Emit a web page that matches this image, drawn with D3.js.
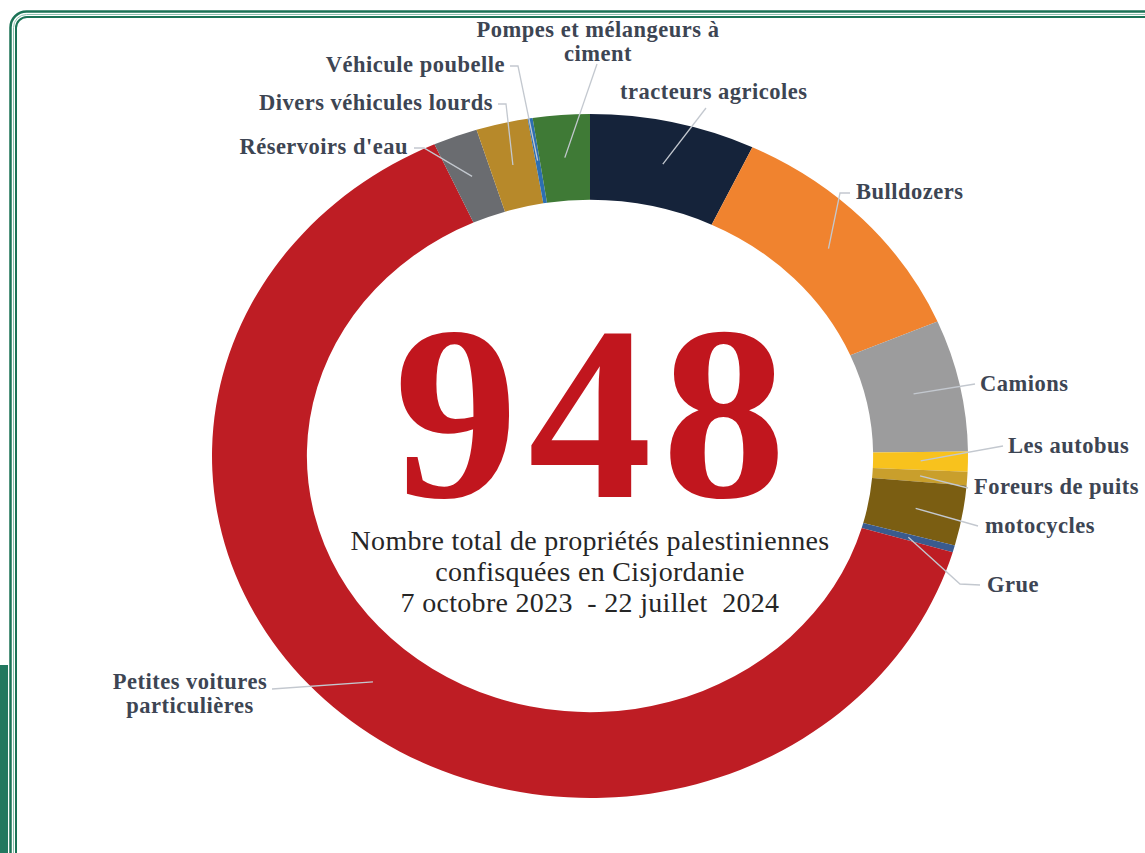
<!DOCTYPE html>
<html>
<head>
<meta charset="utf-8">
<script src="https://cdn.jsdelivr.net/npm/d3@7"></script>
<style>
  html, body { margin: 0; padding: 0; background: #ffffff; }
  svg { display: block; }
</style>
</head>
<body>
<svg id="chart" width="1145" height="853"></svg>
<script>
// ---- data ----
const categories = [
  "tracteurs agricoles",
  "Bulldozers",
  "Camions",
  "Les autobus",
  "Foreurs de puits",
  "motocycles",
  "Grue",
  "Petites voitures particulières",
  "Réservoirs d'eau",
  "Divers véhicules lourds",
  "Véhicule poubelle",
  "Pompes et mélangeurs à ciment"
];
const values = [67, 109, 59, 9, 6, 27, 3, 604, 18, 21, 2, 23];
const totalLabel = "948";
const subtitleLines = [
  "Nombre total de propriétés palestiniennes",
  "confisquées en Cisjordanie",
  "7 octobre 2023  - 22 juillet  2024"
];

// ---- styles ----
const palette = [
  "#15233a", "#f0832f", "#9c9c9d", "#f8c21d", "#c99f2c", "#7b5e12",
  "#3a5b8e", "#be1d24", "#6a6c70", "#b7892a", "#2d6fb2", "#3f7a36"
];

// ---- layout ----
const W = 1145, H = 853;
const cx = 590, cy = 456;
const R = 342;            // vertical outer radius
const sx = 378 / 342;     // horizontal stretch of the picture
const innerRatio = 0.749;

// label layout: anchor x, baseline y, text-anchor, leader points after the slice start
const labelLayout = {
  "tracteurs agricoles": { lines: ["tracteurs agricoles"], x: 620, y: 99, anchor: "start", path: [[706, 108]] },
  "Bulldozers": { lines: ["Bulldozers"], x: 856, y: 199, anchor: "start", path: [[840, 193], [850, 193]] },
  "Camions": { lines: ["Camions"], x: 980, y: 391, anchor: "start", path: [[975, 384]] },
  "Les autobus": { lines: ["Les autobus"], x: 1008, y: 453, anchor: "start", path: [[1003, 446]] },
  "Foreurs de puits": { lines: ["Foreurs de puits"], x: 974, y: 494, anchor: "start", path: [[968, 488]] },
  "motocycles": { lines: ["motocycles"], x: 985, y: 533, anchor: "start", path: [[978, 526]] },
  "Grue": { lines: ["Grue"], x: 987, y: 592, anchor: "start", path: [[960, 584], [980, 585]] },
  "Petites voitures particulières": { lines: ["Petites voitures", "particulières"], x: 190, y: 689, anchor: "middle", path: [[272, 689]] },
  "Réservoirs d'eau": { lines: ["Réservoirs d'eau"], x: 408, y: 154, anchor: "end", path: [[424, 148], [414, 148]] },
  "Divers véhicules lourds": { lines: ["Divers véhicules lourds"], x: 493, y: 110, anchor: "end", path: [[506, 104], [498, 104]] },
  "Véhicule poubelle": { lines: ["Véhicule poubelle"], x: 505, y: 72, anchor: "end", path: [[518, 66], [510, 66]] },
  "Pompes et mélangeurs à ciment": { lines: ["Pompes et mélangeurs à", "ciment"], x: 598, y: 37, anchor: "middle", path: [[597, 64]] }
};

const svg = d3.select("#chart");

// background
svg.append("rect").attr("width", W).attr("height", H).attr("fill", "#ffffff");

// frame (double green rule)
const frame = svg.append("g");
frame.append("rect").attr("x", 0).attr("y", 665).attr("width", 8).attr("height", 200).attr("fill", "#22785f");
frame.append("rect").attr("x", 10.5).attr("y", 11.5).attr("width", 1300).attr("height", 1000).attr("rx", 16)
  .attr("fill", "none").attr("stroke", "#1b7356").attr("stroke-width", 2.5);
frame.append("rect").attr("x", 13.5).attr("y", 14.5).attr("width", 1300).attr("height", 1000).attr("rx", 13)
  .attr("fill", "none").attr("stroke", "#8fc4b0").attr("stroke-width", 1);
frame.append("rect").attr("x", 16).attr("y", 17).attr("width", 1300).attr("height", 1000).attr("rx", 11)
  .attr("fill", "none").attr("stroke", "#1b7356").attr("stroke-width", 2);

// pie
const data = categories.map((c, i) => ({ name: c, value: values[i], color: palette[i] }));
const pie = d3.pie().value(d => d.value).sort(null).startAngle(0).endAngle(2 * Math.PI);
const arcs = pie(data);
const arc = d3.arc().innerRadius(R * innerRatio).outerRadius(R);
const midArc = d3.arc().innerRadius(R * 0.875).outerRadius(R * 0.875);

const ring = svg.append("g").attr("transform", `translate(${cx},${cy}) scale(${sx},1)`);
ring.selectAll("path.slice").data(arcs).enter().append("path")
  .attr("class", "slice")
  .attr("d", arc)
  .attr("fill", d => d.data.color);

// leader lines
const lineG = svg.append("g");
arcs.forEach(a => {
  const L = labelLayout[a.data.name];
  const c = midArc.centroid(a);
  const start = [cx + c[0] * sx, cy + c[1]];
  const pts = [start].concat(L.path);
  lineG.append("path")
    .attr("d", d3.line()(pts))
    .attr("fill", "none")
    .attr("stroke", "#c3c8cf")
    .attr("stroke-width", 1.3);
});

// labels
const labelG = svg.append("g")
  .attr("font-family", "'Liberation Serif', 'Times New Roman', serif")
  .attr("font-weight", "bold")
  .attr("font-size", 22.5)
  .attr("letter-spacing", 0.5)
  .attr("fill", "#3d4553");
arcs.forEach(a => {
  const L = labelLayout[a.data.name];
  const t = labelG.append("text").attr("text-anchor", L.anchor);
  L.lines.forEach((ln, i) => {
    t.append("tspan").attr("x", L.x).attr("y", L.y + i * 24).text(ln);
  });
});

// centre hole text
svg.append("text")
  .attr("x", cx + 5).attr("y", 497)
  .attr("text-anchor", "middle")
  .attr("font-family", "'Liberation Serif', 'Times New Roman', serif")
  .attr("font-weight", "bold")
  .attr("font-size", 248)
  .attr("letter-spacing", 10)
  .attr("fill", "#c1161e")
  .text(totalLabel);

const sub = svg.append("text")
  .attr("text-anchor", "middle")
  .attr("font-family", "'Liberation Serif', 'Times New Roman', serif")
  .attr("font-size", 28)
  .attr("letter-spacing", 0.3)
  .attr("fill", "#262626");
subtitleLines.forEach((ln, i) => {
  sub.append("tspan").attr("x", cx).attr("y", 550 + i * 31).attr("xml:space", "preserve").text(ln);
});
</script>
</body>
</html>
